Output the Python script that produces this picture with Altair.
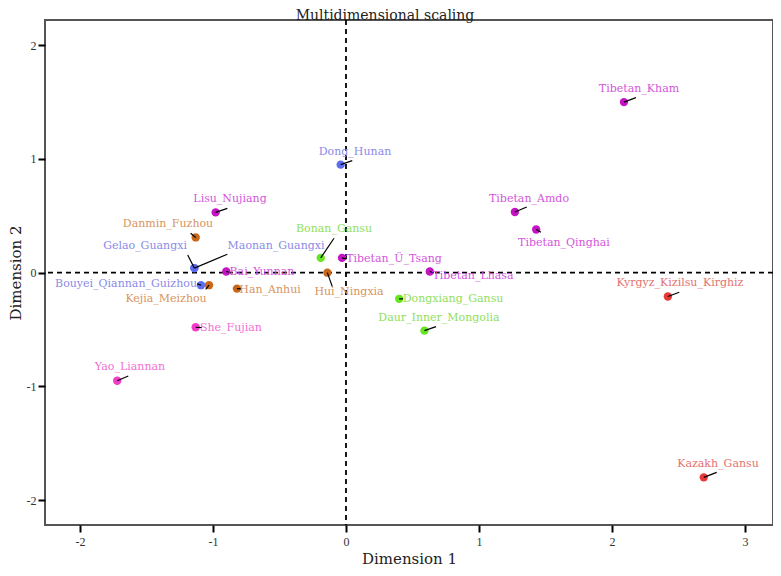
import altair as alt
import pandas as pd

populations = [
    "Tibetan_Kham", "Tibetan_Amdo", "Tibetan_Qinghai", "Kyrgyz_Kizilsu_Kirghiz", "Kazakh_Gansu",
    "Dong_Hunan", "Bonan_Gansu", "Hui_Ningxia", "Tibetan_Ü_Tsang", "Tibetan_Lhasa",
    "Dongxiang_Gansu", "Daur_Inner_Mongolia", "Lisu_Nujiang", "Danmin_Fuzhou", "Maonan_Guangxi",
    "Gelao_Guangxi", "Bai_Yunnan", "Bouyei_Qiannan_Guizhou", "Kejia_Meizhou", "Han_Anhui",
    "She_Fujian", "Yao_Liannan",
]
groups = [
    "Tibeto", "Tibeto", "Tibeto", "Turkic", "Turkic",
    "TaiKadai", "Mongolic", "Sinitic", "Tibeto", "Tibeto",
    "Mongolic", "Mongolic", "Tibeto", "Sinitic", "TaiKadai",
    "TaiKadai", "Tibeto", "TaiKadai", "Sinitic", "Sinitic",
    "HmongMien", "HmongMien",
]
dim1 = [2.09, 1.27, 1.43, 2.42, 2.69,
        -0.04, -0.19, -0.14, -0.03, 0.63,
        0.40, 0.59, -0.98, -1.13, -1.14,
        -1.14, -0.90, -1.09, -1.03, -0.82,
        -1.13, -1.72]
dim2 = [1.50, 0.534, 0.38, -0.21, -1.80,
        0.95, 0.13, 0.0, 0.13, 0.01,
        -0.23, -0.51, 0.53, 0.31, 0.04,
        0.04, 0.01, -0.11, -0.11, -0.14,
        -0.48, -0.95]
# label centres (repelled positions), in data units
label_x = [2.203, 1.376, 1.639, 2.511, 2.797,
           0.068, -0.090, 0.023, 0.361, 0.955,
           0.805, 0.699, -0.872, -1.338, -0.526,
           -1.511, -0.632, -1.654, -1.353, -0.571,
           -0.865, -1.624]
label_y = [1.616, 0.648, 0.264, -0.091, -1.683,
           1.064, 0.384, -0.170, 0.120, -0.029,
           -0.231, -0.396, 0.646, 0.426, 0.235,
           0.235, 0.004, -0.099, -0.234, -0.152,
           -0.484, -0.827]
# leader segment ends, in data units
seg_x = [2.180, 1.359, 1.466, 2.506, 2.787,
         0.047, -0.090, -0.103, 0.005, 0.662,
         0.429, 0.677, -0.892, -1.168, -0.892,
         -1.190, -0.880, -1.120, -1.055, -0.789,
         -1.085, -1.637]
seg_y = [1.539, 0.578, 0.355, -0.172, -1.756,
         0.985, 0.303, -0.123, 0.120, -0.003,
         -0.231, -0.475, 0.566, 0.347, 0.162,
         0.156, 0.004, -0.099, -0.146, -0.143,
         -0.484, -0.909]

group_names = ["TaiKadai", "Sinitic", "Tibeto", "HmongMien", "Mongolic", "Turkic"]
point_colors = ["#5b6cf2", "#c8661a", "#c414c4", "#f03cc8", "#66e622", "#e83838"]
label_colors = ["#8a8ae8", "#d8945e", "#d455dc", "#f070d4", "#90e05c", "#e27272"]

x_ticks = [-2, -1, 0, 1, 2, 3]
y_ticks = [-2, -1, 0, 1, 2]

df = pd.DataFrame({
    "pop": populations, "group": groups, "d1": dim1, "d2": dim2,
    "lx": label_x, "ly": label_y, "sx": seg_x, "sy": seg_y,
})
zero_df = pd.DataFrame({"z": [0]})

xscale = alt.Scale(domain=[-2.263, 3.2105], nice=False, zero=False)
yscale = alt.Scale(domain=[-2.219, 2.222], nice=False, zero=False)

xaxis = alt.Axis(values=x_ticks, labelExpr="'' + datum.value", title="Dimension 1", grid=False,
                 domain=False, tickColor="black", tickWidth=2, tickSize=7,
                 labelFont="Liberation Serif", labelFontSize=12, labelColor="#333333",
                 labelPadding=4, titleFont="DejaVu Serif", titleFontSize=15,
                 titleFontWeight="normal", titleColor="#222222", titlePadding=4)
yaxis = alt.Axis(values=y_ticks, labelExpr="'' + datum.value", title="Dimension 2", grid=False,
                 domain=False, tickColor="black", tickWidth=2, tickSize=7,
                 labelFont="Liberation Serif", labelFontSize=12, labelColor="#333333",
                 labelPadding=2, titleFont="DejaVu Serif", titleFontSize=15,
                 titleFontWeight="normal", titleColor="#222222", titlePadding=3)

base = alt.Chart(df)

vline = alt.Chart(zero_df).mark_rule(color="black", strokeDash=[5, 4], strokeWidth=1.8).encode(
    x=alt.X("z:Q", scale=xscale, axis=xaxis))
hline = alt.Chart(zero_df).mark_rule(color="black", strokeDash=[5, 4], strokeWidth=1.8).encode(
    y=alt.Y("z:Q", scale=yscale, axis=yaxis))

points = base.mark_circle(size=70, opacity=1).encode(
    x=alt.X("d1:Q", scale=xscale, axis=xaxis),
    y=alt.Y("d2:Q", scale=yscale, axis=yaxis),
    color=alt.Color("group:N", scale=alt.Scale(domain=group_names, range=point_colors), legend=None),
)

segments = base.mark_rule(color="black", strokeWidth=1.2).encode(
    x="d1:Q", y="d2:Q", x2="sx:Q", y2="sy:Q")

labels = base.mark_text(font="DejaVu Serif", fontSize=11, baseline="middle", align="center").encode(
    x="lx:Q", y="ly:Q", text="pop:N",
    color=alt.Color("group:N", scale=alt.Scale(domain=group_names, range=label_colors), legend=None),
)

title = alt.Chart(zero_df).mark_text(font="DejaVu Serif", fontSize=14, baseline="alphabetic",
                                      align="center", color="#222222").encode(
    x=alt.value(340), y=alt.value(0), text=alt.value("Multidimensional scaling"))

chart = alt.layer(vline, hline, points, segments, labels, title).resolve_scale(
    color="independent"
).properties(
    width=728, height=505,
    autosize=alt.AutoSizeParams(type="none"),
    padding={"left": 37, "top": 12, "right": 0, "bottom": 43},
).configure_view(stroke="#555555", strokeWidth=2)

chart.save("out.html", embed_options={"renderer": "svg", "actions": False})
